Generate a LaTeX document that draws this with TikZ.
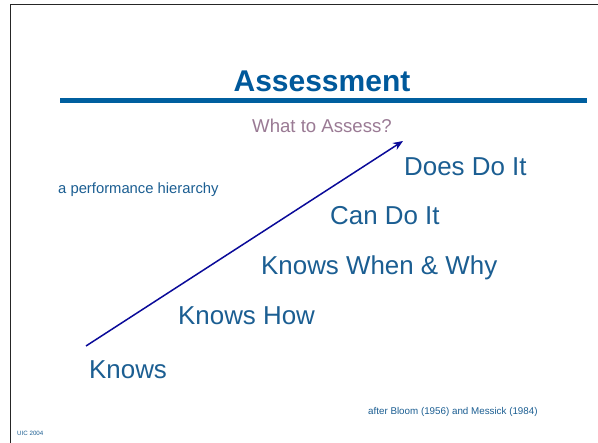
\documentclass[tikz,border=0pt]{standalone}
\usepackage{fontspec}
\setmainfont{Liberation Sans}
\usetikzlibrary{arrows.meta}
\definecolor{titleblue}{HTML}{00599B}
\definecolor{textblue}{HTML}{1B5E92}
\definecolor{rule}{HTML}{005F9F}
\definecolor{mauve}{HTML}{9A7A94}
\definecolor{arrowblue}{HTML}{0A0A99}
\tikzset{
  level/.style={anchor=base west, inner sep=0pt, text=textblue, font=\fontsize{25.9}{28}\selectfont},
  small/.style={anchor=base west, inner sep=0pt, text=textblue}
}
\begin{document}
\begin{tikzpicture}[x=1pt,y=-1pt]
\useasboundingbox (0,0) rectangle (598,443);
\fill[white] (0,0) rectangle (598,443);
\draw[line width=1.2pt, black!85] (598,4.5) -- (10.5,4.5) -- (10.5,443);
\node[anchor=base, inner sep=0pt, text=titleblue, font=\fontsize{30}{34}\selectfont\bfseries] (title) at (322,92) {Assessment};
\draw[line width=5pt, rule] (60,101) -- (587,101);
\node[anchor=base, inner sep=0pt, text=mauve, font=\fontsize{18.6}{20}\selectfont] (q) at (322,133) {What to Assess?};
\node[small, font=\fontsize{14.8}{17}\selectfont] (hier) at (58,194) {a performance hierarchy};
\node[level] (k1) at (89,379) {Knows};
\node[level] (k2) at (178,325) {Knows How};
\node[level] (k3) at (261,275) {Knows When \& Why};
\node[level] (k4) at (330,225) {Can Do It};
\node[level] (k5) at (404,176) {Does Do It};
\coordinate (a0) at (86,346);
\coordinate (a1) at (403,141);
\draw[line width=1.5pt, arrowblue, -{Stealth[length=10pt,width=8pt]}] (a0) -- (a1);
\node[small, font=\fontsize{9.8}{12}\selectfont] (ref) at (368,415) {after Bloom (1956) and Messick (1984)};
\node[small, font=\fontsize{6.2}{7}\selectfont] (uic) at (17,436) {UIC 2004};
\end{tikzpicture}
\end{document}
